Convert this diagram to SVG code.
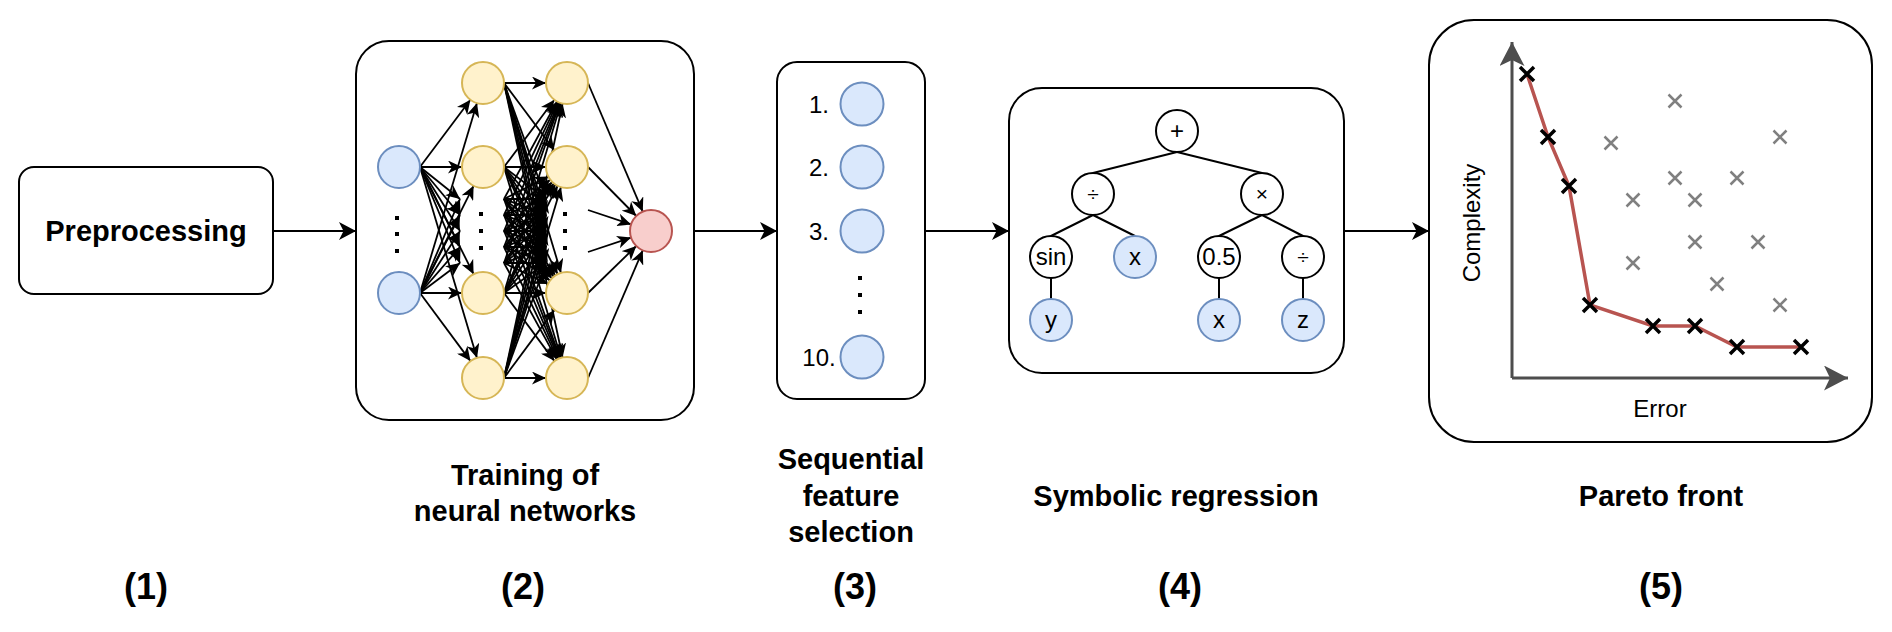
<svg xmlns="http://www.w3.org/2000/svg" width="1892" height="632" viewBox="0 0 1892 632">
<defs>
<style>
.box{fill:#fff;stroke:#000;stroke-width:2}
.lbl{font-family:"Liberation Sans",Arial,sans-serif;font-weight:bold;font-size:29px;fill:#000;text-anchor:middle}
.num{font-family:"Liberation Sans",Arial,sans-serif;font-weight:bold;font-size:36px;fill:#000;text-anchor:middle}
.txt{font-family:"Liberation Sans",Arial,sans-serif;font-size:24px;fill:#000;text-anchor:middle}
.op{font-family:"Liberation Sans",Arial,sans-serif;font-size:21px;fill:#000;text-anchor:middle}
.blue{fill:#dae8fc;stroke:#6c8ebf;stroke-width:2}
.yel{fill:#fff2cc;stroke:#d6b656;stroke-width:2}
.red{fill:#f8cecc;stroke:#b85450;stroke-width:2}
.wn{fill:#fff;stroke:#000;stroke-width:2}
.edge{stroke:#000;stroke-width:2;fill:none}
.main{stroke:#000;stroke-width:2;fill:none;marker-end:url(#ah)}
.nn{stroke:#000;stroke-width:1.8;fill:none;marker-end:url(#nh)}
.axis{stroke:#4d4d4d;stroke-width:3;fill:none;marker-end:url(#axh)}
.px{stroke:#000;stroke-width:3.5}
.gx{stroke:#808080;stroke-width:2.5}
</style>
<marker id="ah" markerUnits="userSpaceOnUse" markerWidth="17" markerHeight="18" refX="17" refY="9" orient="auto"><path d="M0,0 L17,9 L0,18 L4.5,9 Z" fill="#000"/></marker>
<marker id="nh" markerUnits="userSpaceOnUse" markerWidth="14" markerHeight="13" refX="14" refY="6.5" orient="auto"><path d="M0,0 L14,6.5 L0,13 L4,6.5 Z" fill="#000"/></marker>
<marker id="axh" markerUnits="userSpaceOnUse" markerWidth="25" markerHeight="25" refX="24" refY="12.5" orient="auto"><path d="M0,0 L24,12.5 L0,25 L6,12.5 Z" fill="#4d4d4d"/></marker>
</defs>
<rect width="1892" height="632" fill="#fff"/>

<g id="connectors">
<line class="main" x1="273" y1="231" x2="356" y2="231"/>
<line class="main" x1="694" y1="231" x2="777" y2="231"/>
<line class="main" x1="925" y1="231" x2="1009" y2="231"/>
<line class="main" x1="1344" y1="231" x2="1429" y2="231"/>
</g>

<g id="preprocessing">
<rect class="box" x="19" y="167" width="254" height="127" rx="15"/>
<text class="lbl" x="146" y="241">Preprocessing</text>
</g>

<g id="neural-networks">
<rect class="box" x="356" y="41" width="338" height="379" rx="33"/>
<g id="nn-edges">
<line class="nn" x1="420" y1="167" x2="470.4" y2="99.8"/>
<line class="nn" x1="420" y1="167" x2="462" y2="167"/>
<line class="nn" x1="420" y1="167" x2="473.6" y2="274.2"/>
<line class="nn" x1="420" y1="167" x2="477" y2="357.9"/>
<line class="nn" x1="420" y1="167" x2="460" y2="199"/>
<line class="nn" x1="420" y1="167" x2="460" y2="215"/>
<line class="nn" x1="420" y1="167" x2="460" y2="231"/>
<line class="nn" x1="420" y1="167" x2="460" y2="247"/>
<line class="nn" x1="420" y1="167" x2="460" y2="263"/>
<line class="nn" x1="420" y1="293" x2="477" y2="103.1"/>
<line class="nn" x1="420" y1="293" x2="473.6" y2="185.8"/>
<line class="nn" x1="420" y1="293" x2="462" y2="293"/>
<line class="nn" x1="420" y1="293" x2="470.5" y2="361.1"/>
<line class="nn" x1="420" y1="293" x2="460" y2="199"/>
<line class="nn" x1="420" y1="293" x2="460" y2="215"/>
<line class="nn" x1="420" y1="293" x2="460" y2="231"/>
<line class="nn" x1="420" y1="293" x2="460" y2="247"/>
<line class="nn" x1="420" y1="293" x2="460" y2="263"/>

<line class="nn" x1="504" y1="83" x2="546" y2="83"/>
<line class="nn" x1="504" y1="167" x2="554.4" y2="99.8"/>
<line class="nn" x1="504" y1="199" x2="557" y2="101.5"/>
<line class="nn" x1="504" y1="215" x2="557.9" y2="101.9"/>
<line class="nn" x1="504" y1="231" x2="558.8" y2="102.3"/>
<line class="nn" x1="504" y1="247" x2="559.5" y2="102.6"/>
<line class="nn" x1="504" y1="263" x2="560.1" y2="102.8"/>
<line class="nn" x1="504" y1="293" x2="561" y2="103.1"/>
<line class="nn" x1="504" y1="378" x2="562.6" y2="103.5"/>

<line class="nn" x1="504" y1="83" x2="554.4" y2="150.2"/>
<line class="nn" x1="504" y1="167" x2="546" y2="167"/>
<line class="nn" x1="504" y1="199" x2="548.3" y2="176.5"/>
<line class="nn" x1="504" y1="215" x2="550.3" y2="179.7"/>
<line class="nn" x1="504" y1="231" x2="552.3" y2="182"/>
<line class="nn" x1="504" y1="247" x2="554" y2="183.5"/>
<line class="nn" x1="504" y1="263" x2="555.5" y2="184.6"/>
<line class="nn" x1="504" y1="293" x2="557.6" y2="185.8"/>
<line class="nn" x1="504" y1="378" x2="561" y2="187.1"/>

<line class="nn" x1="504" y1="378" x2="554.5" y2="309.9"/>
<line class="nn" x1="504" y1="293" x2="546" y2="293"/>
<line class="nn" x1="504" y1="263" x2="548" y2="284"/>
<line class="nn" x1="504" y1="247" x2="550" y2="280.6"/>
<line class="nn" x1="504" y1="231" x2="552" y2="278.3"/>
<line class="nn" x1="504" y1="215" x2="553.8" y2="276.7"/>
<line class="nn" x1="504" y1="199" x2="555.3" y2="275.6"/>
<line class="nn" x1="504" y1="167" x2="557.6" y2="274.2"/>
<line class="nn" x1="504" y1="83" x2="561" y2="272.9"/>

<line class="nn" x1="504" y1="378" x2="546" y2="378"/>
<line class="nn" x1="504" y1="293" x2="554.5" y2="361.1"/>
<line class="nn" x1="504" y1="263" x2="556.9" y2="359.6"/>
<line class="nn" x1="504" y1="247" x2="557.9" y2="359.1"/>
<line class="nn" x1="504" y1="231" x2="558.7" y2="358.7"/>
<line class="nn" x1="504" y1="215" x2="559.4" y2="358.4"/>
<line class="nn" x1="504" y1="199" x2="560" y2="358.2"/>
<line class="nn" x1="504" y1="167" x2="561" y2="357.9"/>
<line class="nn" x1="504" y1="83" x2="562.6" y2="357.5"/>

<line class="nn" x1="504" y1="83" x2="546" y2="199"/>
<line class="nn" x1="504" y1="167" x2="546" y2="199"/>
<line class="nn" x1="504" y1="199" x2="546" y2="199"/>
<line class="nn" x1="504" y1="215" x2="546" y2="199"/>
<line class="nn" x1="504" y1="231" x2="546" y2="199"/>
<line class="nn" x1="504" y1="247" x2="546" y2="199"/>
<line class="nn" x1="504" y1="263" x2="546" y2="199"/>
<line class="nn" x1="504" y1="293" x2="546" y2="199"/>
<line class="nn" x1="504" y1="378" x2="546" y2="199"/>
<line class="nn" x1="504" y1="83" x2="546" y2="215"/>
<line class="nn" x1="504" y1="167" x2="546" y2="215"/>
<line class="nn" x1="504" y1="199" x2="546" y2="215"/>
<line class="nn" x1="504" y1="215" x2="546" y2="215"/>
<line class="nn" x1="504" y1="231" x2="546" y2="215"/>
<line class="nn" x1="504" y1="247" x2="546" y2="215"/>
<line class="nn" x1="504" y1="263" x2="546" y2="215"/>
<line class="nn" x1="504" y1="293" x2="546" y2="215"/>
<line class="nn" x1="504" y1="378" x2="546" y2="215"/>
<line class="nn" x1="504" y1="83" x2="546" y2="231"/>
<line class="nn" x1="504" y1="167" x2="546" y2="231"/>
<line class="nn" x1="504" y1="199" x2="546" y2="231"/>
<line class="nn" x1="504" y1="215" x2="546" y2="231"/>
<line class="nn" x1="504" y1="231" x2="546" y2="231"/>
<line class="nn" x1="504" y1="247" x2="546" y2="231"/>
<line class="nn" x1="504" y1="263" x2="546" y2="231"/>
<line class="nn" x1="504" y1="293" x2="546" y2="231"/>
<line class="nn" x1="504" y1="378" x2="546" y2="231"/>
<line class="nn" x1="504" y1="83" x2="546" y2="247"/>
<line class="nn" x1="504" y1="167" x2="546" y2="247"/>
<line class="nn" x1="504" y1="199" x2="546" y2="247"/>
<line class="nn" x1="504" y1="215" x2="546" y2="247"/>
<line class="nn" x1="504" y1="231" x2="546" y2="247"/>
<line class="nn" x1="504" y1="247" x2="546" y2="247"/>
<line class="nn" x1="504" y1="263" x2="546" y2="247"/>
<line class="nn" x1="504" y1="293" x2="546" y2="247"/>
<line class="nn" x1="504" y1="378" x2="546" y2="247"/>
<line class="nn" x1="504" y1="83" x2="546" y2="263"/>
<line class="nn" x1="504" y1="167" x2="546" y2="263"/>
<line class="nn" x1="504" y1="199" x2="546" y2="263"/>
<line class="nn" x1="504" y1="215" x2="546" y2="263"/>
<line class="nn" x1="504" y1="231" x2="546" y2="263"/>
<line class="nn" x1="504" y1="247" x2="546" y2="263"/>
<line class="nn" x1="504" y1="263" x2="546" y2="263"/>
<line class="nn" x1="504" y1="293" x2="546" y2="263"/>
<line class="nn" x1="504" y1="378" x2="546" y2="263"/>

<line class="nn" x1="588" y1="83" x2="642.8" y2="211.7"/>
<line class="nn" x1="588" y1="167" x2="636.3" y2="216"/>
<line class="nn" x1="588" y1="210" x2="631.1" y2="224.4"/>
<line class="nn" x1="588" y1="252" x2="631.1" y2="237.6"/>
<line class="nn" x1="588" y1="293" x2="636.3" y2="246"/>
<line class="nn" x1="588" y1="378" x2="642.8" y2="250.3"/>
</g>
<circle class="blue" cx="399" cy="167" r="21"/>
<circle class="blue" cx="399" cy="293" r="21"/>
<circle class="yel" cx="483" cy="83" r="21"/>
<circle class="yel" cx="483" cy="167" r="21"/>
<circle class="yel" cx="483" cy="293" r="21"/>
<circle class="yel" cx="483" cy="378" r="21"/>
<circle class="yel" cx="567" cy="83" r="21"/>
<circle class="yel" cx="567" cy="167" r="21"/>
<circle class="yel" cx="567" cy="293" r="21"/>
<circle class="yel" cx="567" cy="378" r="21"/>
<circle class="red" cx="651" cy="231" r="21"/>
<g fill="#000">
<rect x="395" y="216" width="4" height="4"/><rect x="395" y="232" width="4" height="4"/><rect x="395" y="249" width="4" height="4"/>
<rect x="479" y="212" width="4" height="4"/><rect x="479" y="229" width="4" height="4"/><rect x="479" y="246" width="4" height="4"/>
<rect x="563" y="212" width="4" height="4"/><rect x="563" y="229" width="4" height="4"/><rect x="563" y="246" width="4" height="4"/>
</g>
</g>

<g id="feature-selection">
<rect class="box" x="777" y="62" width="148" height="337" rx="20"/>
<text class="txt" x="819" y="113">1.</text>
<text class="txt" x="819" y="176">2.</text>
<text class="txt" x="819" y="240">3.</text>
<text class="txt" x="819" y="366">10.</text>
<circle class="blue" cx="862" cy="104" r="21.5"/>
<circle class="blue" cx="862" cy="167" r="21.5"/>
<circle class="blue" cx="862" cy="231" r="21.5"/>
<circle class="blue" cx="862" cy="357" r="21.5"/>
<g fill="#000">
<rect x="858" y="276" width="4" height="4"/><rect x="858" y="293" width="4" height="4"/><rect x="858" y="310" width="4" height="4"/>
</g>
</g>

<g id="symbolic-regression">
<rect class="box" x="1009" y="88" width="335" height="285" rx="33"/>
<g id="tree-edges">
<line class="edge" x1="1177" y1="152" x2="1093" y2="173"/>
<line class="edge" x1="1177" y1="152" x2="1262" y2="173"/>
<line class="edge" x1="1093" y1="215" x2="1051" y2="236"/>
<line class="edge" x1="1093" y1="215" x2="1135" y2="236"/>
<line class="edge" x1="1262" y1="215" x2="1219" y2="236"/>
<line class="edge" x1="1262" y1="215" x2="1303" y2="236"/>
<line class="edge" x1="1051" y1="278" x2="1051" y2="299"/>
<line class="edge" x1="1219" y1="278" x2="1219" y2="299"/>
<line class="edge" x1="1303" y1="278" x2="1303" y2="299"/>
</g>
<circle class="wn" cx="1177" cy="131" r="21"/><text class="txt" x="1177" y="139">+</text>
<circle class="wn" cx="1093" cy="194" r="21"/><text class="op" x="1093" y="201">÷</text>
<circle class="wn" cx="1262" cy="194" r="21"/><text class="op" x="1262" y="201">×</text>
<circle class="wn" cx="1051" cy="257" r="21"/><text class="txt" x="1051" y="265">sin</text>
<circle class="blue" cx="1135" cy="257" r="21"/><text class="txt" x="1135" y="265">x</text>
<circle class="wn" cx="1219" cy="257" r="21"/><text class="txt" x="1219" y="265">0.5</text>
<circle class="wn" cx="1303" cy="257" r="21"/><text class="op" x="1303" y="264">÷</text>
<circle class="blue" cx="1051" cy="320" r="21"/><text class="txt" x="1051" y="328">y</text>
<circle class="blue" cx="1219" cy="320" r="21"/><text class="txt" x="1219" y="328">x</text>
<circle class="blue" cx="1303" cy="320" r="21"/><text class="txt" x="1303" y="328">z</text>
</g>

<g id="pareto-front">
<rect class="box" x="1429" y="20" width="443" height="422" rx="45"/>
<line class="axis" x1="1512" y1="378" x2="1512" y2="42"/>
<line class="axis" x1="1512" y1="378" x2="1848" y2="378"/>
<text class="txt" transform="translate(1480,223) rotate(-90)">Complexity</text>
<text class="txt" x="1660" y="417">Error</text>
<polyline points="1527,74 1548,137 1569,186 1590,305 1653,326 1695,326 1737,347 1801,347" fill="none" stroke="#b85450" stroke-width="3.5"/>
<g class="gx">
<path d="M1668.5,94.5 l13,13 m0,-13 l-13,13"/>
<path d="M1604.5,136.5 l13,13 m0,-13 l-13,13"/>
<path d="M1773.5,130.5 l13,13 m0,-13 l-13,13"/>
<path d="M1668.5,171.5 l13,13 m0,-13 l-13,13"/>
<path d="M1730.5,171.5 l13,13 m0,-13 l-13,13"/>
<path d="M1626.5,193.5 l13,13 m0,-13 l-13,13"/>
<path d="M1688.5,193.5 l13,13 m0,-13 l-13,13"/>
<path d="M1688.5,235.5 l13,13 m0,-13 l-13,13"/>
<path d="M1751.5,235.5 l13,13 m0,-13 l-13,13"/>
<path d="M1626.5,256.5 l13,13 m0,-13 l-13,13"/>
<path d="M1710.5,277.5 l13,13 m0,-13 l-13,13"/>
<path d="M1773.5,298.5 l13,13 m0,-13 l-13,13"/>
</g>
<g class="px">
<path d="M1520,67 l14,14 m0,-14 l-14,14"/>
<path d="M1541,130 l14,14 m0,-14 l-14,14"/>
<path d="M1562,179 l14,14 m0,-14 l-14,14"/>
<path d="M1583,298 l14,14 m0,-14 l-14,14"/>
<path d="M1646,319 l14,14 m0,-14 l-14,14"/>
<path d="M1688,319 l14,14 m0,-14 l-14,14"/>
<path d="M1730,340 l14,14 m0,-14 l-14,14"/>
<path d="M1794,340 l14,14 m0,-14 l-14,14"/>
</g>
</g>

<g id="labels">
<text class="lbl" x="525" y="485">Training of</text>
<text class="lbl" x="525" y="521">neural networks</text>
<text class="lbl" x="851" y="469">Sequential</text>
<text class="lbl" x="851" y="506">feature</text>
<text class="lbl" x="851" y="542">selection</text>
<text class="lbl" x="1176" y="506">Symbolic regression</text>
<text class="lbl" x="1661" y="506">Pareto front</text>
<text class="num" x="146" y="599">(1)</text>
<text class="num" x="523" y="599">(2)</text>
<text class="num" x="855" y="599">(3)</text>
<text class="num" x="1180" y="599">(4)</text>
<text class="num" x="1661" y="599">(5)</text>
</g>
</svg>
